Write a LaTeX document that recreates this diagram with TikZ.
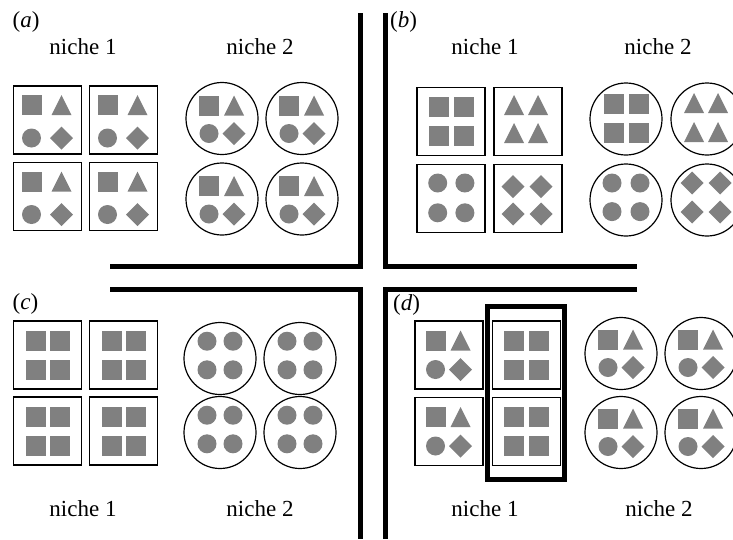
\documentclass[tikz,border=0pt]{standalone}
\usepackage{fontspec}
\setmainfont{Liberation Serif}
\usepackage{tikz}
\usetikzlibrary{positioning}

\definecolor{glyphgray}{gray}{0.5}

\tikzset{
  cellbox/.style={draw, line width=1.2pt, minimum size=68pt, inner sep=0pt},
  cellcirc/.style={draw, circle, line width=1.2pt, minimum size=72pt, inner sep=0pt},
  glyph/.style={fill=glyphgray},
  divider/.style={line width=5pt, miter limit=10},
  highlight/.style={draw, line width=4.5pt, inner sep=0pt},
  niche/.style={anchor=base, inner sep=0pt, font=\fontsize{23}{27}\selectfont},
  panel/.style={anchor=base west, inner sep=0pt, font=\fontsize{23}{27}\selectfont}
}

\newcommand{\gsquare}[2]{\fill[glyph] (#1,#2) ++(-10,-10) rectangle ++(20,20);}
\newcommand{\gtriangle}[2]{\fill[glyph] (#1,#2) ++(-10,10) -- ++(20,0) -- ++(-10,-20) -- cycle;}
\newcommand{\gdot}[2]{\fill[glyph] (#1,#2) circle[radius=9.5pt];}
\newcommand{\gdiamond}[2]{\fill[glyph] (#1,#2) ++(0,-11.5) -- ++(11.5,11.5) -- ++(-11.5,11.5) -- ++(-11.5,-11.5) -- cycle;}
\newcommand{\mixgroup}[4]{\gsquare{#1-#3}{#2-#4}\gtriangle{#1+#3}{#2-#4}\gdot{#1-#3}{#2+#4}\gdiamond{#1+#3}{#2+#4}}
\newcommand{\quadgroup}[5]{#1{#2-#4}{#3-#5}#1{#2+#4}{#3-#5}#1{#2-#4}{#3+#5}#1{#2+#4}{#3+#5}}

\begin{document}
\begin{tikzpicture}[x=1pt, y=-1pt]
 \useasboundingbox (0,0) rectangle (733,539);
 \clip (0,0) rectangle (733,539);

 % dividers
 \draw[divider] (360,13) -- (360,266) -- (110,266);
 \draw[divider] (385,13) -- (385,266) -- (637,266);
 \draw[divider] (110,289) -- (360,289) -- (360,539);
 \draw[divider] (637,289) -- (385,289) -- (385,539);

 % (a)
 \draw (12.5,27.5) node[panel] (a-label) {(\textit{a})};
 \draw (83,54.5) node[niche] (a-niche1) {niche 1};
 \draw (260,54.5) node[niche] (a-niche2) {niche 2};
 \foreach \x/\y [count=\i] in {47.5/120, 123.5/120, 47.5/196.5, 123.5/196.5} {
   \draw (\x,\y) node[cellbox] (a-box\i) {};
   \mixgroup{\x-1}{\y+1.5}{15}{16.5}
 }
 \foreach \x/\y [count=\i] in {222/118.5, 302/118.5, 222/199, 302/199} {
   \draw (\x,\y) node[cellcirc] (a-circ\i) {};
   \mixgroup{\x-0.5}{\y+1}{12.5}{14}
 }

 % (b)
 \draw (390,27.5) node[panel] (b-label) {(\textit{b})};
 \draw (485,54) node[niche] (b-niche1) {niche 1};
 \draw (658,54) node[niche] (b-niche2) {niche 2};
 \draw (451,121.5) node[cellbox] (b-box1) {};
 \draw (528,121.5) node[cellbox] (b-box2) {};
 \draw (451,198.5) node[cellbox] (b-box3) {};
 \draw (528,198.5) node[cellbox] (b-box4) {};
 \quadgroup{\gsquare}{451}{121}{12.5}{14.5}
 \quadgroup{\gtriangle}{526}{119}{12}{14}
 \quadgroup{\gdot}{451.3}{197.9}{13.6}{14.9}
 \quadgroup{\gdiamond}{527}{200.3}{14}{13.7}
 \draw (626,119) node[cellcirc] (b-circ1) {};
 \draw (707,119) node[cellcirc] (b-circ2) {};
 \draw (626,200) node[cellcirc] (b-circ3) {};
 \draw (707,200) node[cellcirc] (b-circ4) {};
 \quadgroup{\gsquare}{626}{118}{12.5}{14.5}
 \quadgroup{\gtriangle}{706}{117.5}{12}{14.5}
 \quadgroup{\gdot}{626}{197.3}{14}{14.3}
 \quadgroup{\gdiamond}{706}{197.5}{14}{14.5}

 % (c)
 \draw (12.5,309) node[panel] (c-label) {(\textit{c})};
 \draw (83,516) node[niche] (c-niche1) {niche 1};
 \draw (260,516) node[niche] (c-niche2) {niche 2};
 \foreach \x/\y [count=\i] in {47.5/355, 123.5/355, 47.5/431, 123.5/431} {
   \draw (\x,\y) node[cellbox] (c-box\i) {};
   \quadgroup{\gsquare}{\x}{\y+0.5}{12}{14.5}
 }
 \foreach \x/\y [count=\i] in {220/358.5, 300/358.5, 220/432.5, 300/432.5} {
   \draw (\x,\y) node[cellcirc] (c-circ\i) {};
   \quadgroup{\gdot}{\x}{\y-3}{13}{14.3}
 }

 % (d)
 \draw (393,310) node[panel] (d-label) {(\textit{d})};
 \draw (485,516) node[niche] (d-niche1) {niche 1};
 \draw (659,516) node[niche] (d-niche2) {niche 2};
 \foreach \y [count=\i] in {355, 431.5} {
   \draw (449,\y) node[cellbox] (d-box\i) {};
   \mixgroup{448}{\y}{12.5}{14.5}
   \draw (526.5,\y) node[cellbox] (d-sqbox\i) {};
   \quadgroup{\gsquare}{526}{\y}{12.5}{14.5}
 }
 \draw (526,393) node[highlight, minimum width=77pt, minimum height=173pt] (d-frame) {};
 \foreach \x/\y [count=\i] in {621/353.5, 701/353.5, 621/432.5, 701/432.5} {
   \draw (\x,\y) node[cellcirc] (d-circ\i) {};
   \mixgroup{\x-0.5}{\y}{12.5}{14}
 }
\end{tikzpicture}
\end{document}
